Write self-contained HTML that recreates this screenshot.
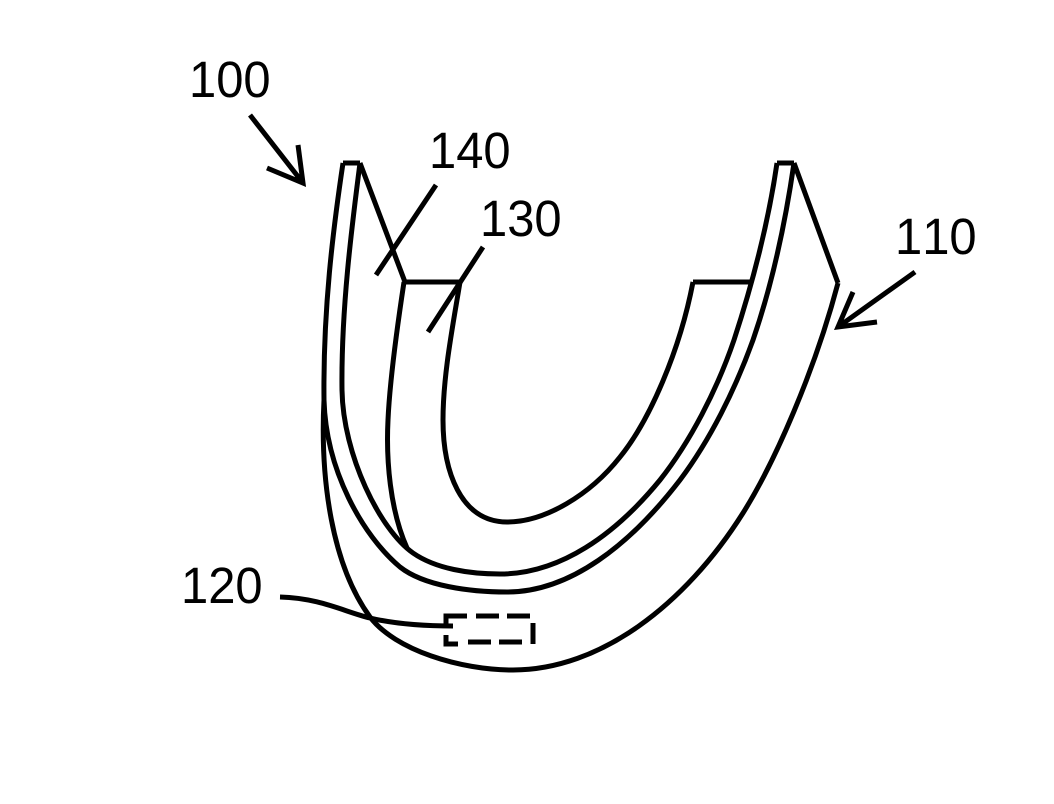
<!DOCTYPE html>
<html>
<head>
<meta charset="utf-8">
<style>
html,body{margin:0;padding:0;background:#fff;width:1054px;height:804px;overflow:hidden}
svg{display:block}
text{font-family:"Liberation Sans",Arial,sans-serif;font-size:48px;fill:#000;font-kerning:none}
path{fill:none;stroke:#000;stroke-width:5;stroke-linejoin:miter}
</style>
</head>
<body>
<svg width="1054" height="804" viewBox="0 0 1054 804" xmlns="http://www.w3.org/2000/svg">
<path d="M777,163 H794 M343,163 H360"/>
<path d="M343,163 C333,230 323,310 324,400 C326,470 362,535 400,567 C424,586 470,592 507,592 C570,592 630,545 680,480 C710,440 735,390 753,340 C772,285 785,225 794,163"/>
<path d="M360,163 C352,225 341,310 342,390 C343,455 380,530 413,553 C436,569 470,574 500,574 C560,574 615,535 660,480 C690,442 717,390 734,340 C752,285 768,225 777,163"/>
<path d="M324,400 C320,480 332,565 370,617 C395,650 460,670 513,670 C600,670 685,605 743,513 C775,462 815,370 838,283"/>
<path d="M360,163 L405,282 H460 M794,163 L838,283 M693,282 H750"/>
<path d="M404,282 C399,315 390,375 388,420 C386,460 390,510 407,548"/>
<path d="M460,282 C453,325 443,375 443,420 C443,470 460,522 507,522 C545,522 590,495 620,457 C650,420 680,350 693,282"/>
<path d="M436,185 L376,275 M483,247 L428,332"/>
<path d="M250,115 L303,183 M298,145 L303,183 L267,168"/>
<path d="M915,272 L838,327 M853,292 L838,327 L877,322"/>
<path d="M280,597 C320,598 345,612 370,618 C395,624 425,626 453,626"/>
<path d="M467,616 H446 V626 M446,635 V644 H458 M468,642 H491 M499,642 H522 M476,616 H499 M507,616 H530 M533,623 V644"/>
<text transform="translate(189,97) scale(1.02,1.06)">100</text>
<text transform="translate(429,168) scale(1.02,1.06)">140</text>
<text transform="translate(480,236) scale(1.02,1.06)">130</text>
<text transform="translate(895,254) scale(1.02,1.06)">110</text>
<text transform="translate(181,603) scale(1.02,1.06)">120</text>
</svg>
</body>
</html>
